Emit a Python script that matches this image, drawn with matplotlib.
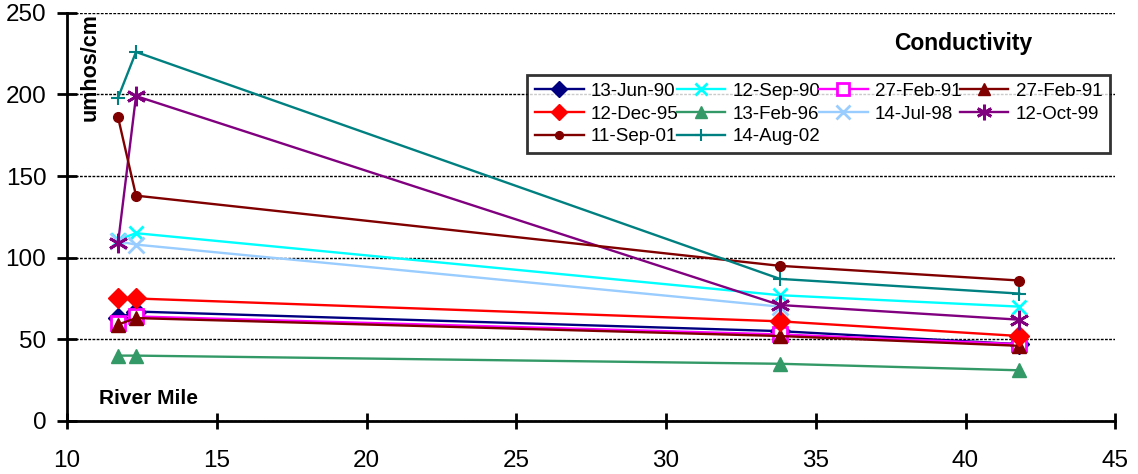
import matplotlib
matplotlib.use("Agg")
import matplotlib.pyplot as plt

plt.rcParams["font.family"] = ["Liberation Sans", "DejaVu Sans"]

# river mile positions of the sampling sites
river_mile = [11.7, 12.3, 33.8, 41.8]

jun90 = [63, 67, 55, 47]
sep90 = [111, 115, 77, 70]
feb91_a = [60, 64, 53, 47]
feb91_b = [59, 63, 52, 46]
dec95 = [75, 75, 61, 52]
feb96 = [40, 40, 35, 31]
jul98 = [110, 108, 70]
oct99 = [109, 199, 71, 62]
sep01 = [186, 138, 95, 86]
aug02 = [198, 226, 87, 78]

series = [
    ("13-Jun-90", jun90, "#000080", "D", {}),
    ("12-Sep-90", sep90, "#00FFFF", "x", {"mew": 2}),
    ("27-Feb-91", feb91_a, "#FF00FF", "s", {"mfc": "white", "mew": 2}),
    ("27-Feb-91", feb91_b, "#800000", "^", {}),
    ("12-Dec-95", dec95, "#FF0000", "D", {}),
    ("13-Feb-96", feb96, "#339966", "^", {}),
    ("14-Jul-98", jul98, "#99CCFF", "x", {"mew": 2, "ms": 12}),
    ("12-Oct-99", oct99, "#800080", (6, 2, 0), {"mew": 2, "ms": 14}),
    ("11-Sep-01", sep01, "#800000", "o", {"ms": 7}),
    ("14-Aug-02", aug02, "#008080", "+", {"mew": 1.5}),
]

fig = plt.figure(figsize=(11.38, 4.74), dpi=100)
ax = fig.add_axes([0.059, 0.112, 0.921, 0.861])

for label, vals, color, marker, extra in series:
    kw = {"ms": 10, "mec": color, "mfc": color}
    kw.update(extra)
    ax.plot(river_mile[:len(vals)], vals, color=color, lw=1.7,
            marker=marker, label=label, **kw)

ax.set_xlim(10, 45)
ax.set_ylim(0, 250)
ax.set_xticks(range(10, 46, 5))
ax.set_yticks(range(0, 251, 50))
ax.tick_params(labelsize=17.5, width=2)
ax.tick_params(axis="y", direction="inout", length=14, pad=8)
ax.tick_params(axis="x", direction="inout", length=12, pad=15)
ax.yaxis.grid(True, color="black", linestyle=(0, (2, 1)), lw=1)
ax.set_axisbelow(True)
for s in ["top", "right"]:
    ax.spines[s].set_visible(False)
for s in ["left", "bottom"]:
    ax.spines[s].set_linewidth(2)

ax.text(0.921, 0.925, "Conductivity", transform=ax.transAxes, ha="right",
        va="center", fontsize=16.5, fontweight="bold")
ax.text(0.012, 1.0, "umhos/cm", transform=ax.transAxes, rotation=90,
        ha="left", va="top", fontsize=15.5, fontweight="bold")
ax.text(0.03, 0.055, "River Mile", transform=ax.transAxes, ha="left",
        va="center", fontsize=15, fontweight="bold")

# matplotlib fills legend columns first; reorder so entries read row by row
handles, labels = ax.get_legend_handles_labels()
order = [0, 4, 8, 1, 5, 9, 2, 6, 3, 7]
leg = ax.legend([handles[i] for i in order], [labels[i] for i in order],
                ncol=4, mode="expand", bbox_to_anchor=(0.439, 0.657, 0.556, 0.193),
                loc="lower left", fontsize=13.5, frameon=True, fancybox=False,
                borderpad=0.4, labelspacing=0.3, handlelength=2.6,
                handletextpad=0.4, columnspacing=0.8, borderaxespad=0,
                markerscale=0.8)
leg.get_frame().set_edgecolor("black")
leg.get_frame().set_linewidth(2)

fig.savefig("out.png", dpi=100)
